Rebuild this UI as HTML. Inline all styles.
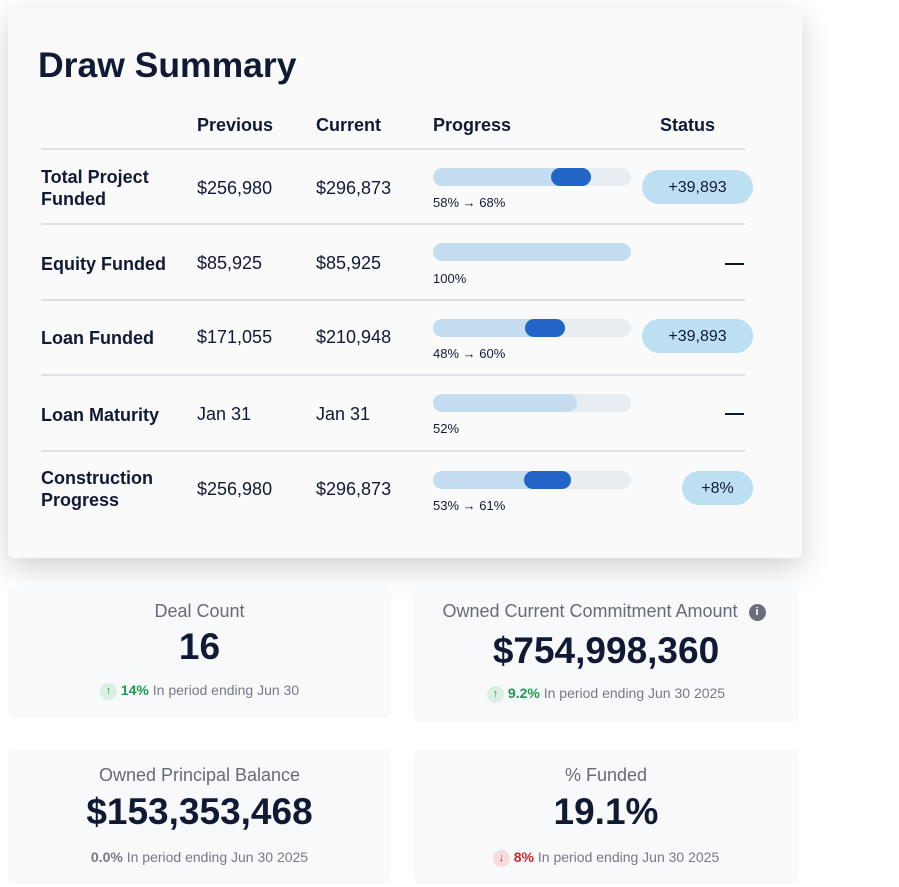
<!DOCTYPE html>
<html><head><style>
*{margin:0;padding:0;box-sizing:border-box}
body{width:899px;height:887px;background:#fff;position:relative;overflow:hidden;font-family:"Liberation Sans",sans-serif;color:#111a35}
.a{position:absolute;white-space:nowrap}
.card{position:absolute;left:8px;top:8px;width:794px;height:550px;background:#fafafa;border-radius:6px;box-shadow:0 10px 30px rgba(0,0,0,.18)}
.h{font-size:18px;font-weight:bold;top:115px}
.ln{position:absolute;left:41px;width:704px;height:2px;background:#dfe0e3}
.lb{font-size:18px;font-weight:bold;left:41px;line-height:22px}
.v{font-size:18px}
.bar{position:absolute;left:433px;width:198px;height:18px;border-radius:9px;background:#e8edf2;overflow:hidden}
.bar i{position:absolute;top:0;height:18px;border-radius:9px}
.pt{font-size:13px;left:433px}
.badge{position:absolute;height:34px;border-radius:17px;background:#bddff2;font-size:16px;text-align:center;line-height:36px}
.dash{position:absolute;left:725px;width:19px;height:2px;background:#111a35}
.sc{position:absolute;background:#f7f9fb;border-radius:6px;text-align:center}
.st{font-size:18px;color:#676b77;position:absolute;left:0;right:0}
.sv{font-size:37px;font-weight:bold;position:absolute;left:0;right:0}
.sf{font-size:14px;color:#767a85;position:absolute;left:0;right:0}
.ic{display:inline-block;width:17px;height:17px;border-radius:50%;font-size:11px;line-height:17px;vertical-align:middle;margin-right:4px}
</style></head><body>
<div class="card"></div>
<div class="a" style="left:38px;top:45px;font-size:35.5px;font-weight:bold">Draw Summary</div>
<div class="a h" style="left:197px">Previous</div>
<div class="a h" style="left:316px">Current</div>
<div class="a h" style="left:433px">Progress</div>
<div class="a h" style="left:660px">Status</div>
<div class="ln" style="top:148px"></div>
<div class="ln" style="top:223px"></div>
<div class="ln" style="top:299px"></div>
<div class="ln" style="top:374px"></div>
<div class="ln" style="top:450px"></div>

<div class="a lb" style="top:166px">Total Project<br>Funded</div>
<div class="a v" style="left:197px;top:178px">$256,980</div>
<div class="a v" style="left:316px;top:178px">$296,873</div>
<div class="bar" style="top:168px"><i style="left:0;width:158px;background:#c5ddf0"></i><i style="left:118px;width:40px;background:#2265c7"></i></div>
<div class="a pt" style="top:195px">58% → 68%</div>
<div class="badge" style="left:642px;top:170px;width:111px">+39,893</div>

<div class="a lb" style="top:253px">Equity Funded</div>
<div class="a v" style="left:197px;top:253px">$85,925</div>
<div class="a v" style="left:316px;top:253px">$85,925</div>
<div class="bar" style="top:243px"><i style="left:0;width:198px;background:#c5ddf0"></i></div>
<div class="a pt" style="top:271px">100%</div>
<div class="dash" style="top:263px"></div>

<div class="a lb" style="top:327px">Loan Funded</div>
<div class="a v" style="left:197px;top:327px">$171,055</div>
<div class="a v" style="left:316px;top:327px">$210,948</div>
<div class="bar" style="top:319px"><i style="left:0;width:132px;background:#c5ddf0"></i><i style="left:92px;width:40px;background:#2265c7"></i></div>
<div class="a pt" style="top:346px">48% → 60%</div>
<div class="badge" style="left:642px;top:319px;width:111px">+39,893</div>

<div class="a lb" style="top:404px">Loan Maturity</div>
<div class="a v" style="left:197px;top:404px">Jan 31</div>
<div class="a v" style="left:316px;top:404px">Jan 31</div>
<div class="bar" style="top:394px"><i style="left:0;width:144px;background:#c5ddf0"></i></div>
<div class="a pt" style="top:421px">52%</div>
<div class="dash" style="top:413px"></div>

<div class="a lb" style="top:467px">Construction<br>Progress</div>
<div class="a v" style="left:197px;top:479px">$256,980</div>
<div class="a v" style="left:316px;top:479px">$296,873</div>
<div class="bar" style="top:471px"><i style="left:0;width:138px;background:#c5ddf0"></i><i style="left:91px;width:47px;background:#2265c7"></i></div>
<div class="a pt" style="top:498px">53% → 61%</div>
<div class="badge" style="left:682px;top:471px;width:71px">+8%</div>

<div class="sc" style="left:8px;top:586px;width:383px;height:132px">
<div class="st" style="top:15px">Deal Count</div>
<div class="sv" style="top:40px">16</div>
<div class="sf" style="top:96px"><span class="ic" style="background:#dcefe3;color:#1f9a4d">↑</span><b style="color:#1f9a4d">14%</b> In period ending Jun 30</div>
</div>
<div class="sc" style="left:413px;top:585px;width:386px;height:137px">
<div class="st" style="top:16px">Owned Current Commitment Amount <span class="ic" style="background:#6b6f7b;color:#fff;font-weight:bold;margin-left:6px">i</span></div>
<div class="sv" style="top:45px">$754,998,360</div>
<div class="sf" style="top:100px"><span class="ic" style="background:#dcefe3;color:#1f9a4d">↑</span><b style="color:#1f9a4d">9.2%</b> In period ending Jun 30 2025</div>
</div>
<div class="sc" style="left:8px;top:749px;width:383px;height:135px">
<div class="st" style="top:16px">Owned Principal Balance</div>
<div class="sv" style="top:42px">$153,353,468</div>
<div class="sf" style="top:100px"><b>0.0%</b> In period ending Jun 30 2025</div>
</div>
<div class="sc" style="left:413px;top:749px;width:386px;height:135px">
<div class="st" style="top:16px">% Funded</div>
<div class="sv" style="top:42px">19.1%</div>
<div class="sf" style="top:100px"><span class="ic" style="background:#f8dcdc;color:#c42a2a">↓</span><b style="color:#c42a2a">8%</b> In period ending Jun 30 2025</div>
</div>
</body></html>
